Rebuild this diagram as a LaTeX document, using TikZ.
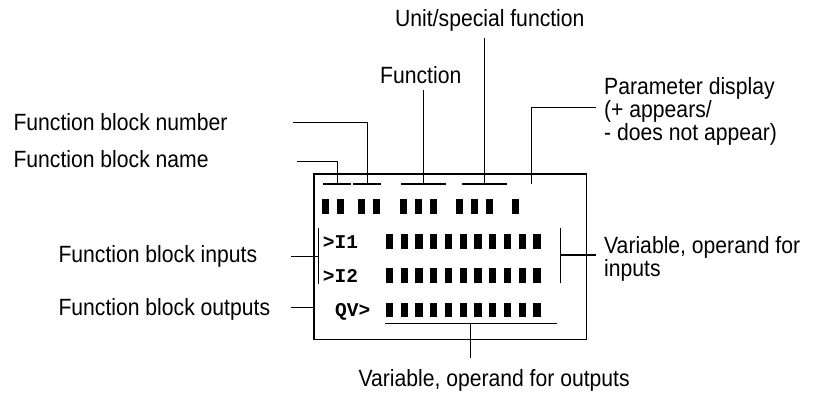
\documentclass[tikz,border=0pt]{standalone}
\usepackage{fontspec}
\setmainfont{Liberation Sans}[FakeStretch=0.9]
\setmonofont{Liberation Mono}
\usetikzlibrary{positioning}
\tikzset{
  lbl/.style ={anchor=base west, inner sep=0pt, font=\fontsize{23.5}{23}\selectfont},
  mlbl/.style={lbl, anchor=north west, align=left},
  lcd/.style ={anchor=base west, inner sep=0pt, font=\fontsize{19.5}{19}\selectfont\ttfamily\bfseries},
  lead/.style={line width=1.2pt, draw=black},
  frame/.style={draw=black, line width=1.3pt, anchor=north west, inner sep=0pt,
                minimum width=272.5pt, minimum height=165.7pt},
  seg/.style ={fill=black}
}

\begin{document}
\begin{tikzpicture}[x=1pt, y=-1pt]
\useasboundingbox (0,0) rectangle (825,397);
% display frame
\node[frame] (disp) at (313.3,173.3) {};

% labels
\node[lbl] (unit) at (395,26) {Unit/special function};
\node[lbl] (func) at (380,83) {Function};
\node[mlbl] (param) at (604,77) {Parameter display\\(+ appears/\\- does not appear)};
\node[lbl] (fbnum) at (13.3,130.3) {Function block number};
\node[lbl] (fbname) at (13.3,167) {Function block name};
\node[lbl] (fbin) at (58.3,262.3) {Function block inputs};
\node[lbl] (fbout) at (58.3,315.5) {Function block outputs};
\node[mlbl] (varin) at (604,236) {Variable, operand for\\inputs};
\node[lbl] (varout) at (358.3,386) {Variable, operand for outputs};

% display text
\node[lcd] (in1) at (322.7,248.3) {>I1};
\node[lcd] (in2) at (322.7,282.3) {>I2};
\node[lcd] (qv) at (335,316.5) {QV>};

% character cells
\foreach \x in {321.7,336.7,358.3,373.3,400,415,430,456,471,486,512.3}
  \fill[seg] (\x,199.3) rectangle ++(6.8,14.7);
\foreach \y in {234.3,268.3,302.5}
  \foreach \k in {0,...,10}
    \fill[seg] (386+\k*14.73,\y) rectangle ++(7.2,14.5);

% field underlines
\foreach \a/\b in {323.3/350.7, 353/380.7, 401/445.7, 462/506.7}
  \draw[lead] (\a,184) -- (\b,184);
\draw[lead] (318.3,227.7) -- (318.3,284.3);
\draw[lead] (560.7,227.7) -- (560.7,283.3);
\draw[lead] (385,323.3) -- (557,323.3);

% leader ends
\coordinate (nameS) at (297,161.7);   \coordinate (nameE) at (337.3,184);
\coordinate (numS)  at (293,122.7);   \coordinate (numE)  at (367.7,184);
\coordinate (funcS) at (423.3,90);    \coordinate (funcE) at (423.3,184);
\coordinate (unitS) at (484.3,38.3);  \coordinate (unitE) at (484.3,184);
\coordinate (parS)  at (596,107.3);   \coordinate (parE)  at (531.5,184);
\coordinate (inS)   at (291,256.3);   \coordinate (inE)   at (318.3,256.3);
\coordinate (outS)  at (291,307.5);   \coordinate (outE)  at (313.3,307.5);
\coordinate (viS)   at (596,255);     \coordinate (viE)   at (560.7,255);
\coordinate (voS)   at (470.7,358.3); \coordinate (voE)   at (470.7,323.3);

\draw[lead] (nameS) -| (nameE);
\draw[lead] (numS) -| (numE);
\draw[lead] (funcS) -- (funcE);
\draw[lead] (unitS) -- (unitE);
\draw[lead] (parS) -| (parE);
\draw[lead] (inS) -- (inE);
\draw[lead] (outS) -- (outE);
\draw[lead] (viS) -- (viE);
\draw[lead] (voS) -- (voE);
\end{tikzpicture}
\end{document}
